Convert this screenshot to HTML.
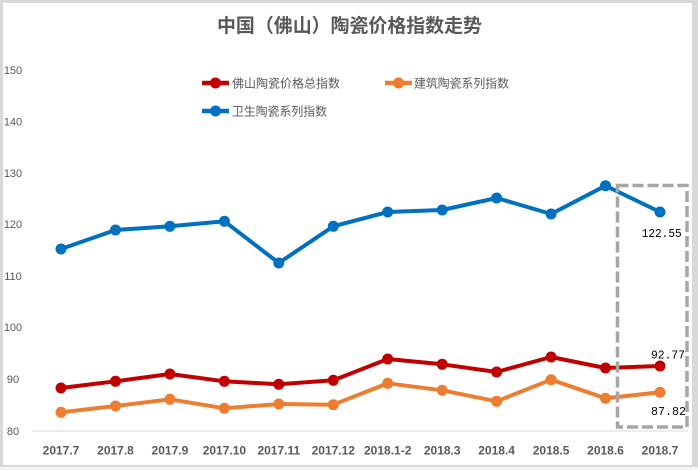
<!DOCTYPE html>
<html><head><meta charset="utf-8"><style>
html,body{margin:0;padding:0;width:698px;height:470px;overflow:hidden;background:#fff}
svg{display:block}
</style></head><body>
<svg width="698" height="470" viewBox="0 0 698 470" xmlns="http://www.w3.org/2000/svg">
<rect x="0" y="0" width="698" height="470" fill="#d9d9d9"/>
<rect x="0" y="467" width="698" height="3" fill="#f4f4f4"/>
<rect x="3" y="3" width="689" height="462" fill="#ffffff"/>
<text x="217" y="32" font-family="'Liberation Sans','Noto Sans CJK SC',sans-serif" font-size="19" font-weight="bold" fill="#595959" textLength="265" lengthAdjust="spacingAndGlyphs">中国（佛山）陶瓷价格指数走势</text>
<g font-family="'Liberation Sans',sans-serif" font-size="11" fill="#595959" text-anchor="middle">
<text x="13" y="74">150</text><text x="13" y="125.5">140</text><text x="13" y="177">130</text><text x="13" y="228">120</text><text x="13" y="280">110</text><text x="13" y="331">100</text><text x="13" y="383">90</text><text x="13" y="435">80</text>
</g>
<line x1="33" y1="431" x2="688" y2="431" stroke="#d9d9d9" stroke-width="1"/>
<g font-family="'Liberation Sans','Noto Sans CJK SC',sans-serif" font-size="12" fill="#595959">
<line x1="202" y1="83" x2="229" y2="83" stroke="#c00000" stroke-width="4.5"/><circle cx="215.5" cy="83" r="5.5" fill="#c00000"/>
<text x="232" y="87.5" textLength="108" lengthAdjust="spacingAndGlyphs">佛山陶瓷价格总指数</text>
<line x1="385" y1="83" x2="412" y2="83" stroke="#ed7d31" stroke-width="4.5"/><circle cx="398.5" cy="83" r="5.5" fill="#ed7d31"/>
<text x="414" y="87.5" textLength="95" lengthAdjust="spacingAndGlyphs">建筑陶瓷系列指数</text>
<line x1="202" y1="111" x2="229" y2="111" stroke="#0070c0" stroke-width="4.5"/><circle cx="215.5" cy="111" r="5.5" fill="#0070c0"/>
<text x="232" y="115.5" textLength="95" lengthAdjust="spacingAndGlyphs">卫生陶瓷系列指数</text>
</g>
<g fill="none" stroke-width="4" stroke-linejoin="round">
<polyline stroke="#0070c0" points="61,249 115.5,230 169.9,226.3 224.4,221.3 278.8,263 333.3,226.3 387.7,212 442.2,210 496.6,198 551.1,214 605.5,185.7 660,212"/>
<polyline stroke="#c00000" points="61,388 115.5,381.3 169.9,374 224.4,381.3 278.8,384.3 333.3,380.3 387.7,359 442.2,364.3 496.6,372 551.1,357 605.5,368 660,366"/>
<polyline stroke="#ed7d31" points="61,412.3 115.5,406 169.9,399.3 224.4,408.3 278.8,404 333.3,404.7 387.7,383.3 442.2,390.3 496.6,401.3 551.1,379.7 605.5,398.3 660,392.3"/>
</g>
<g fill="#0070c0">
<circle cx="61" cy="249" r="5.5"/><circle cx="115.5" cy="230" r="5.5"/><circle cx="169.9" cy="226.3" r="5.5"/><circle cx="224.4" cy="221.3" r="5.5"/><circle cx="278.8" cy="263" r="5.5"/><circle cx="333.3" cy="226.3" r="5.5"/><circle cx="387.7" cy="212" r="5.5"/><circle cx="442.2" cy="210" r="5.5"/><circle cx="496.6" cy="198" r="5.5"/><circle cx="551.1" cy="214" r="5.5"/><circle cx="605.5" cy="185.7" r="5.5"/><circle cx="660" cy="212" r="5.5"/>
</g>
<g fill="#c00000">
<circle cx="61" cy="388" r="5.5"/><circle cx="115.5" cy="381.3" r="5.5"/><circle cx="169.9" cy="374" r="5.5"/><circle cx="224.4" cy="381.3" r="5.5"/><circle cx="278.8" cy="384.3" r="5.5"/><circle cx="333.3" cy="380.3" r="5.5"/><circle cx="387.7" cy="359" r="5.5"/><circle cx="442.2" cy="364.3" r="5.5"/><circle cx="496.6" cy="372" r="5.5"/><circle cx="551.1" cy="357" r="5.5"/><circle cx="605.5" cy="368" r="5.5"/><circle cx="660" cy="366" r="5.5"/>
</g>
<g fill="#ed7d31">
<circle cx="61" cy="412.3" r="5.5"/><circle cx="115.5" cy="406" r="5.5"/><circle cx="169.9" cy="399.3" r="5.5"/><circle cx="224.4" cy="408.3" r="5.5"/><circle cx="278.8" cy="404" r="5.5"/><circle cx="333.3" cy="404.7" r="5.5"/><circle cx="387.7" cy="383.3" r="5.5"/><circle cx="442.2" cy="390.3" r="5.5"/><circle cx="496.6" cy="401.3" r="5.5"/><circle cx="551.1" cy="379.7" r="5.5"/><circle cx="605.5" cy="398.3" r="5.5"/><circle cx="660" cy="392.3" r="5.5"/>
</g>
<rect x="617.5" y="185.5" width="69.5" height="241.5" fill="none" stroke="#a6a6a6" stroke-width="3.5" stroke-dasharray="11 4"/>
<g font-family="'Liberation Mono',monospace" font-size="12" fill="#000">
<text x="641.7" y="237" textLength="40" lengthAdjust="spacingAndGlyphs">122.55</text>
<text x="651" y="358.5" textLength="34" lengthAdjust="spacingAndGlyphs">92.77</text>
<text x="651" y="415" textLength="35" lengthAdjust="spacingAndGlyphs">87.82</text>
</g>
<g font-family="'Liberation Sans',sans-serif" font-size="12" font-weight="bold" fill="#595959" text-anchor="middle">
<text x="61" y="454.5">2017.7</text>
<text x="115.5" y="454.5">2017.8</text>
<text x="169.9" y="454.5">2017.9</text>
<text x="224.4" y="454.5">2017.10</text>
<text x="278.8" y="454.5">2017.11</text>
<text x="333.3" y="454.5">2017.12</text>
<text x="387.7" y="454.5">2018.1-2</text>
<text x="442.2" y="454.5">2018.3</text>
<text x="496.6" y="454.5">2018.4</text>
<text x="551.1" y="454.5">2018.5</text>
<text x="605.5" y="454.5">2018.6</text>
<text x="660" y="454.5">2018.7</text>
</g>
</svg>
</body></html>
